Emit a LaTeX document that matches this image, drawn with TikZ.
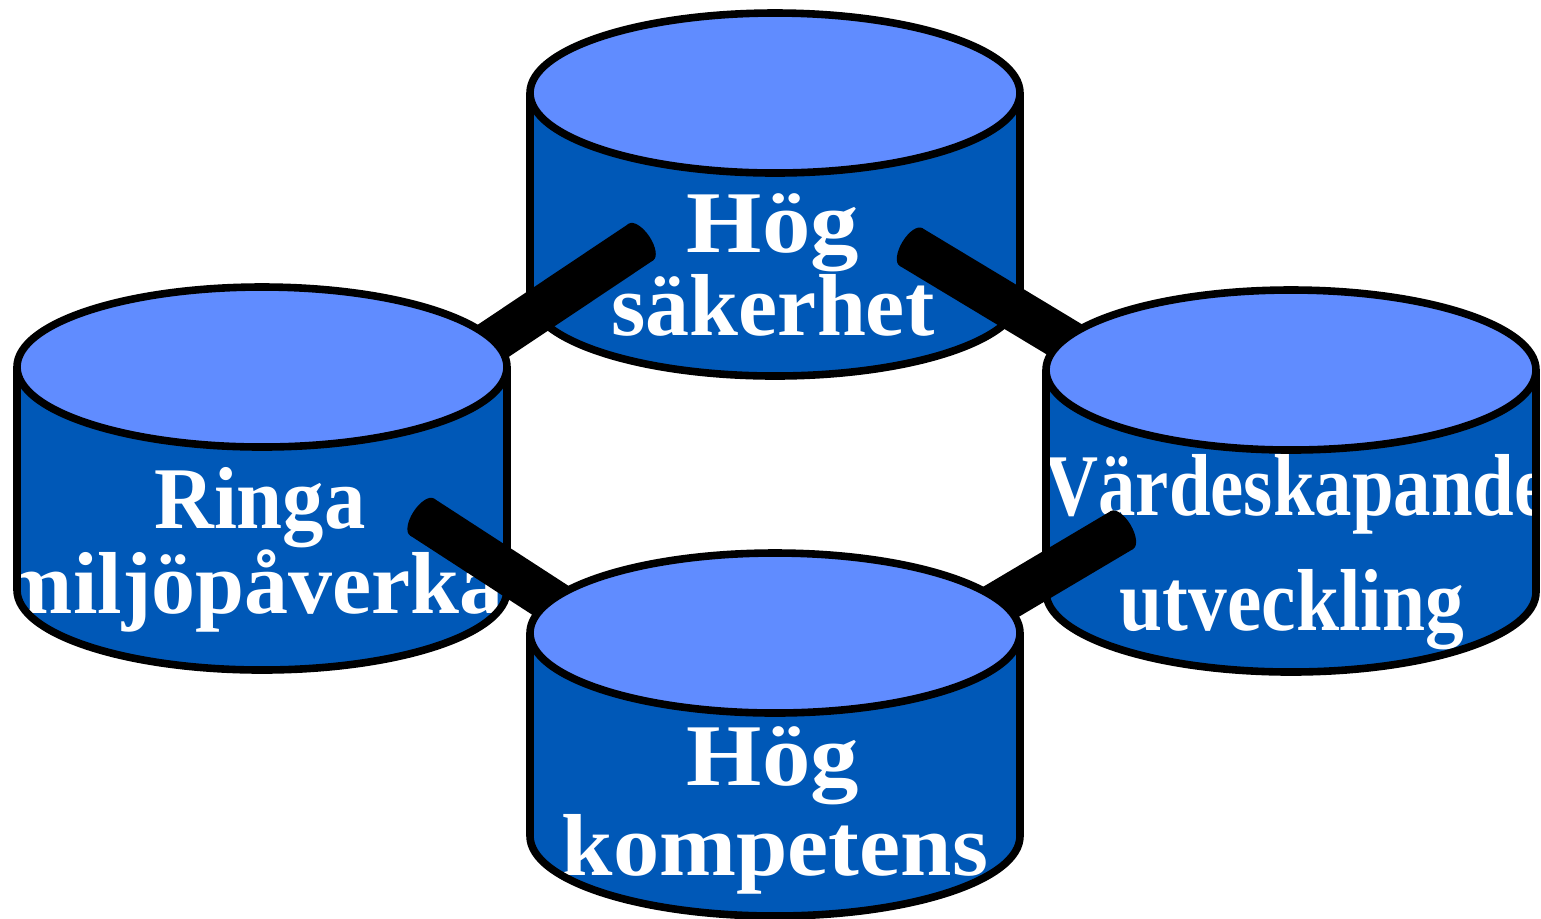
\documentclass[tikz,border=0pt]{standalone}
\usepackage{fontspec}
\setmainfont{Liberation Serif}
\definecolor{drumtop}{RGB}{96,140,255}
\definecolor{drumside}{RGB}{0,88,183}
\tikzset{
  outline/.style={line width=3.8pt, black, line join=round},
  rod/.style={line width=22pt, black},
  drumlabel/.style={text=white, font=\fontsize{44}{44}\selectfont\bfseries, anchor=base, inner sep=0pt},
}
% #1 name, #2 centre x, #3 top face centre y, #4 bottom face centre y, #5 labels
\newcommand{\drawdrum}[5]{%
  \coordinate (#1) at (#2,{(#3+#4)/2});
  \path[fill=drumside] (#2-245,#3) -- (#2-245,#4)
    arc[start angle=180, end angle=0, x radius=245, y radius=80] -- (#2+245,#3) -- cycle;
  \begin{scope}
    \clip (#2-245,#3) -- (#2-245,#4)
      arc[start angle=180, end angle=0, x radius=245, y radius=80] -- (#2+245,#3)
      arc[start angle=0, end angle=-180, x radius=245, y radius=80] -- cycle;
    #5
  \end{scope}
  \draw[outline] (#2-245,#3) -- (#2-245,#4)
    arc[start angle=180, end angle=0, x radius=245, y radius=80] -- (#2+245,#3);
  \draw[outline, fill=drumtop] (#2,#3) ellipse[x radius=245, y radius=80];
}
% #1 hidden end, #2 visible end, #3 direction of the visible end
\newcommand{\drawrod}[3]{%
  \draw[rod] (#1) -- (#2);
  \fill[shift={(#2)}, rotate=#3] (0,0) ellipse[x radius=10, y radius=22];
}
\begin{document}
\begin{tikzpicture}[x=0.5pt, y=-0.5pt]
  \fill[white] (0,0) rectangle (1541,918);
  \useasboundingbox (0,0) rectangle (1541,918);

  % upper drum
  \drawdrum{safety}{775}{93}{296}{%
    \node[drumlabel] (safety-1) at (773,252) {\scalebox{1.1}[1]{Hög}};
    \node[drumlabel] (safety-2) at (773,335) {säkerhet};
  }

  % rods hanging from the upper drum
  \coordinate (tl-end) at (475,353);  \coordinate (tl-cap) at (641,242);
  \coordinate (tr-end) at (1082,350); \coordinate (tr-cap) at (911,247);
  \drawrod{tl-end}{tl-cap}{33.7}
  \drawrod{tr-end}{tr-cap}{149}

  % side drums
  \drawdrum{environment}{262}{367}{590}{%
    \node[drumlabel] (environment-1) at (260,528) {\scalebox{0.94}[1]{Ringa}};
    \node[drumlabel] (environment-2) at (276,613) {miljöpåverkan};
  }
  \drawdrum{value}{1291}{370}{592}{%
    \node[drumlabel] (value-1) at (1296,515) {\scalebox{0.85}[1]{Värdeskapande}};
    \node[drumlabel] (value-2) at (1292,630) {\scalebox{0.88}[1]{utveckling}};
  }

  % rods leading down to the lower drum
  \coordinate (bl-end) at (590,626);  \coordinate (bl-cap) at (422,517);
  \coordinate (br-end) at (950,632);  \coordinate (br-cap) at (1122,530);
  \drawrod{bl-end}{bl-cap}{147}
  \drawrod{br-end}{br-cap}{30.5}

  % lower drum
  \drawdrum{competence}{775}{633}{836}{%
    \node[drumlabel] (competence-1) at (773,785) {\scalebox{1.1}[1]{Hög}};
    \node[drumlabel] (competence-2) at (775,875) {\scalebox{1.05}[1]{kompetens}};
  }
\end{tikzpicture}
\end{document}
